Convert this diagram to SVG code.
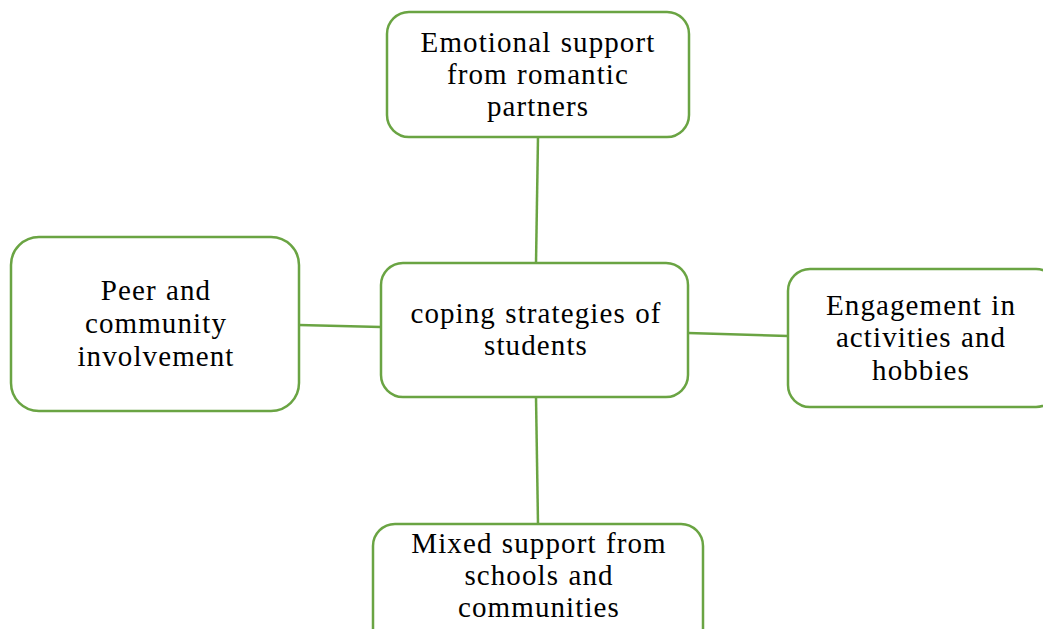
<svg xmlns="http://www.w3.org/2000/svg" width="1043" height="629" viewBox="0 0 1043 629">
<style>
.box{fill:#fff;stroke:#6AA443;stroke-width:2.5}
.lbl{font-family:"Liberation Serif","Times New Roman",serif;font-size:29px;letter-spacing:1.1px;word-spacing:1px;fill:#000;text-anchor:middle}
.con{stroke:#6AA443;stroke-width:2.5;fill:none}
</style>
<rect width="1043" height="629" fill="#fff"/>
<g id="connectors">
<line class="con" x1="538" y1="137" x2="536" y2="263"/>
<line class="con" x1="299" y1="325" x2="381" y2="327"/>
<line class="con" x1="688" y1="333" x2="788" y2="336"/>
<line class="con" x1="536" y1="397" x2="538" y2="524"/>
</g>
<g id="top">
<rect class="box" x="387" y="12" width="302" height="125" rx="22"/>
<text class="lbl" x="538" y="52">Emotional support</text>
<text class="lbl" x="538" y="84">from romantic</text>
<text class="lbl" x="538" y="116">partners</text>
</g>
<g id="center">
<rect class="box" x="381" y="263" width="307" height="134" rx="22"/>
<text class="lbl" x="536" y="323">coping strategies of</text>
<text class="lbl" x="536" y="355">students</text>
</g>
<g id="left">
<rect class="box" x="11" y="237" width="288" height="174" rx="28"/>
<text class="lbl" x="156" y="300">Peer and</text>
<text class="lbl" x="156" y="333">community</text>
<text class="lbl" x="156" y="366">involvement</text>
</g>
<g id="right">
<rect class="box" x="788" y="269" width="270" height="138" rx="22"/>
<text class="lbl" x="921" y="315">Engagement in</text>
<text class="lbl" x="921" y="347">activities and</text>
<text class="lbl" x="921" y="380">hobbies</text>
</g>
<g id="bottom">
<rect class="box" x="373" y="524" width="330" height="130" rx="22"/>
<text class="lbl" x="539" y="553">Mixed support from</text>
<text class="lbl" x="539" y="585">schools and</text>
<text class="lbl" x="539" y="617">communities</text>
</g>
</svg>
